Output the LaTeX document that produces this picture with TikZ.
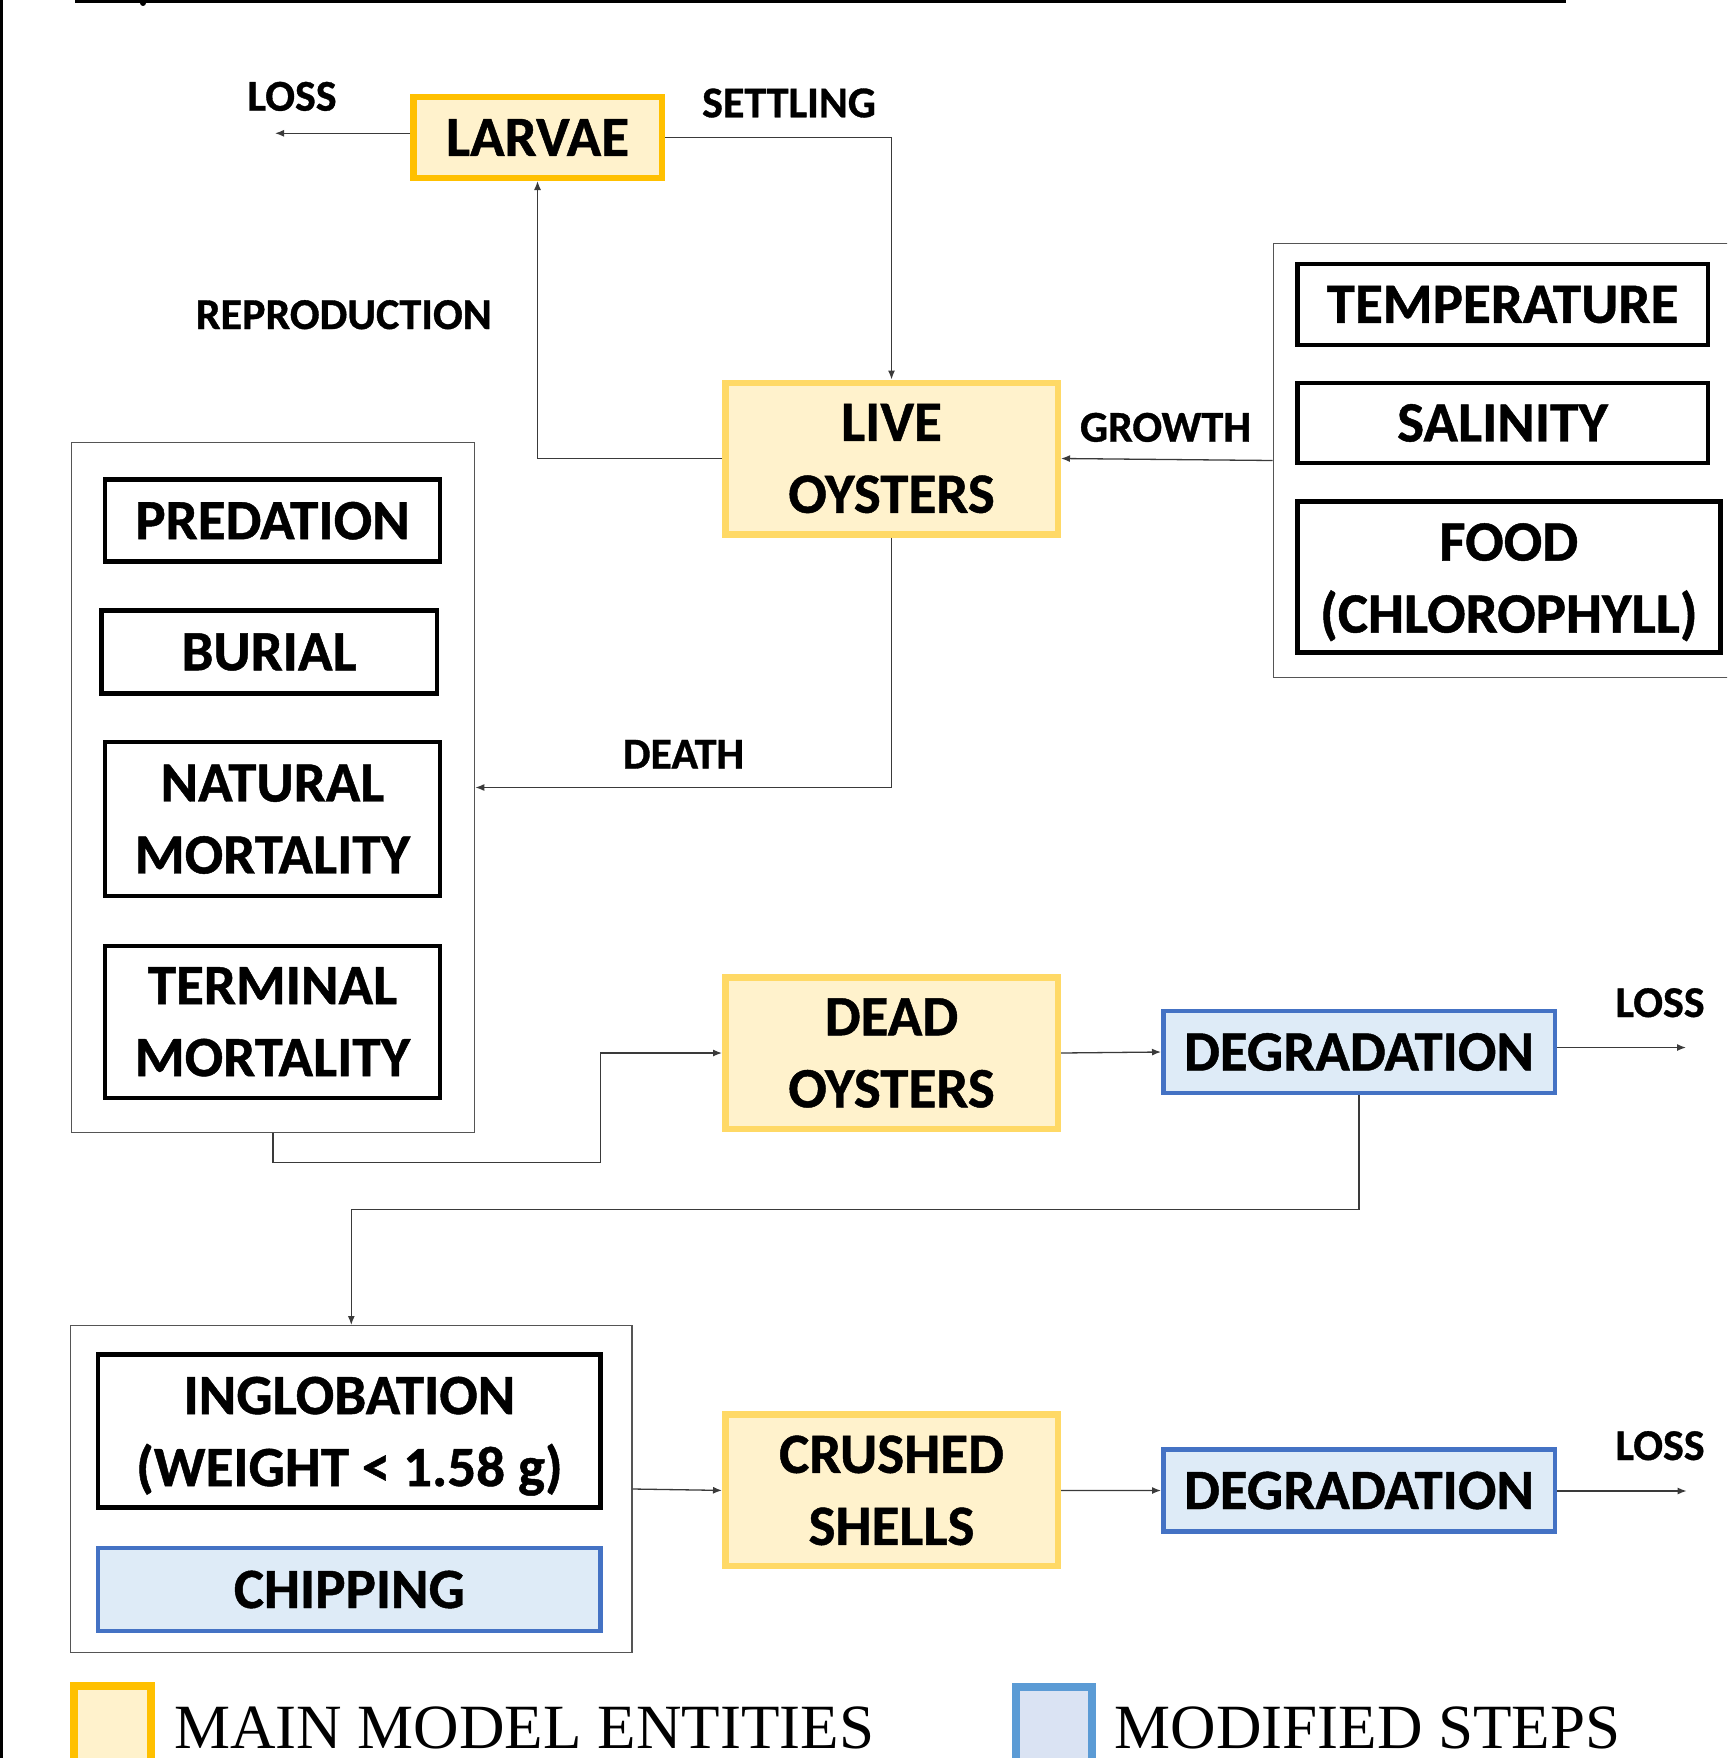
\documentclass[tikz,border=0pt]{standalone}
\usepackage{fontspec}
\setmainfont{Carlito}[BoldFeatures={FakeBold=0.8}]
\newfontfamily\legendfont{Liberation Serif}
\usetikzlibrary{arrows.meta}
\definecolor{yel}{HTML}{FFC000}
\definecolor{yellt}{HTML}{FFD966}
\definecolor{yelfill}{HTML}{FFF2CC}
\definecolor{blu}{HTML}{4472C4}
\definecolor{blufill}{HTML}{DEEBF7}
\definecolor{legblu}{HTML}{5B9BD5}
\definecolor{legblufill}{HTML}{DAE3F3}
\definecolor{conncol}{HTML}{3A3A3A}
\definecolor{contcol}{HTML}{555555}
\newcommand\lowerline[1]{\raisebox{-5pt}[\height][\depth]{#1}}
\begin{document}
\begin{tikzpicture}[x=1pt,y=-1pt,
  boxtext/.style={font=\fontsize{57}{72}\selectfont\bfseries, align=center, inner sep=0pt},
  mainent/.style={boxtext, draw=yellt, fill=yelfill, line width=6.5pt},
  larvaebox/.style={mainent, draw=yel},
  modstep/.style={boxtext, draw=blu, fill=blufill, line width=4.5pt},
  factor/.style={boxtext, draw=black, fill=white, line width=4.5pt},
  group/.style={draw=contcol, line width=1.3pt, inner sep=0pt},
  flowlabel/.style={font=\fontsize{44}{50}\selectfont\bfseries, inner sep=0pt, anchor=base},
  conn/.style={draw=conncol, line width=1.3pt},
  arr/.style={conn, -{Latex[length=9pt,width=7pt]}},
  legtext/.style={font=\legendfont\fontsize{63}{70}\selectfont, inner sep=0pt, anchor=base west},
]
\useasboundingbox (0,0) rectangle (1727,1758);
\clip (0,0) rectangle (1727,1758);

% page frame remnants
\draw[line width=4.5pt] (75,1) -- (1566,1);
\fill (143,3) circle (3);
\draw[line width=3pt] (1.5,0) -- (1.5,1758);

% containers
\node[group, minimum width=403.3pt, minimum height=690.3pt] (mort) at (273,787.5) {};
\node[group, minimum width=486.7pt, minimum height=434.3pt] (env) at (1516.6,460.5) {};
\node[group, minimum width=561.3pt, minimum height=326.7pt] (bot) at (351.3,1489) {};

% main entities
\node[larvaebox, minimum width=248.5pt, minimum height=80.5pt] (larvae) at (537.5,137.5) {LARVAE};
\node[mainent, minimum width=332.5pt, minimum height=151.5pt] (live) at (891.5,458.5) {LIVE\\OYSTERS};
\node[mainent, minimum width=332.5pt, minimum height=151.5pt] (dead) at (891.5,1053) {DEAD\\OYSTERS};
\node[mainent, minimum width=332.5pt, minimum height=151.5pt] (crushed) at (891.5,1490.4) {CRUSHED\\SHELLS};

% modified steps
\node[modstep, minimum width=391.5pt, minimum height=82pt] (deg1) at (1359,1052) {DEGRADATION};
\node[modstep, minimum width=391.5pt, minimum height=82pt] (deg2) at (1359,1490.5) {DEGRADATION};
\node[modstep, minimum width=502.5pt, minimum height=83pt] (chip) at (349.4,1589.5) {CHIPPING};

% environmental factors
\node[factor, minimum width=410.5pt, minimum height=81pt] (temp) at (1502.5,304.5) {TEMPERATURE};
\node[factor, minimum width=410.5pt, minimum height=80pt] (sal) at (1502.5,423) {SALINITY};
\node[factor, minimum width=423pt, minimum height=151pt] (food) at (1508.8,577.2) {\lowerline{FOOD}\\\lowerline{(CHLOROPHYLL)}};

% mortality factors
\node[factor, minimum width=335pt, minimum height=82pt] (pred) at (272.5,520.7) {PREDATION};
\node[factor, minimum width=335.5pt, minimum height=83pt] (burial) at (269,652) {BURIAL};
\node[factor, minimum width=335pt, minimum height=154pt] (natural) at (272.5,819.2) {NATURAL\\MORTALITY};
\node[factor, minimum width=335pt, minimum height=152pt] (terminal) at (272.5,1021.8) {TERMINAL\\MORTALITY};

% shell loss factors
\node[factor, minimum width=502.5pt, minimum height=153pt] (inglob) at (349.4,1431.2) {\lowerline{INGLOBATION}\\\lowerline{(WEIGHT < 1.58 g)}};

% flow labels
\node[flowlabel] (lossa) at (292,110.7) {LOSS};
\node[flowlabel] (settling) at (789,117.3) {SETTLING};
\node[flowlabel] (repro) at (343.8,329) {REPRODUCTION};
\node[flowlabel] (growth) at (1165.5,441.7) {GROWTH};
\node[flowlabel] (death) at (683.5,768.5) {DEATH};
\node[flowlabel] (lossb) at (1660,1017) {LOSS};
\node[flowlabel] (lossc) at (1660,1460) {LOSS};

% free ends and junctions
\coordinate (endA) at (275,133.3);
\coordinate (endB) at (1686,1047.5);
\coordinate (endC) at (1686.6,1491);
\coordinate (j1) at (600.2,1162.3);
\coordinate (j2) at (351.3,1209.3);

% connectors
\draw[arr] (larvae.west |- endA) -- (endA);
\draw[arr] (larvae.east) -| (live.north);
\draw[arr] (live.west) -| (larvae.south);
\draw[arr] (env.west) -- (live.east);
\draw[arr] (live.south) |- (mort.east);
\draw[arr] (mort.south) |- (j1) |- (dead.west);
\draw[arr] (dead.east) -- (deg1.west);
\draw[arr] (deg1.east |- endB) -- (endB);
\draw[arr] (deg1.south) |- (j2) -- (bot.north);
\draw[arr] (bot.east) -- (crushed.west);
\draw[arr] (crushed.east) -- (deg2.west);
\draw[arr] (deg2.east |- endC) -- (endC);

% legend
\draw[draw=yel, fill=yelfill, line width=8pt] (74.4,1686.3) rectangle (151.3,1790);
\node[legtext] (leg1) at (174,1748.3) {MAIN MODEL ENTITIES};
\draw[draw=legblu, fill=legblufill, line width=8pt] (1015.5,1687.3) rectangle (1091.6,1790);
\node[legtext] (leg2) at (1114.5,1748.3) {MODIFIED STEPS};
\end{tikzpicture}
\end{document}
